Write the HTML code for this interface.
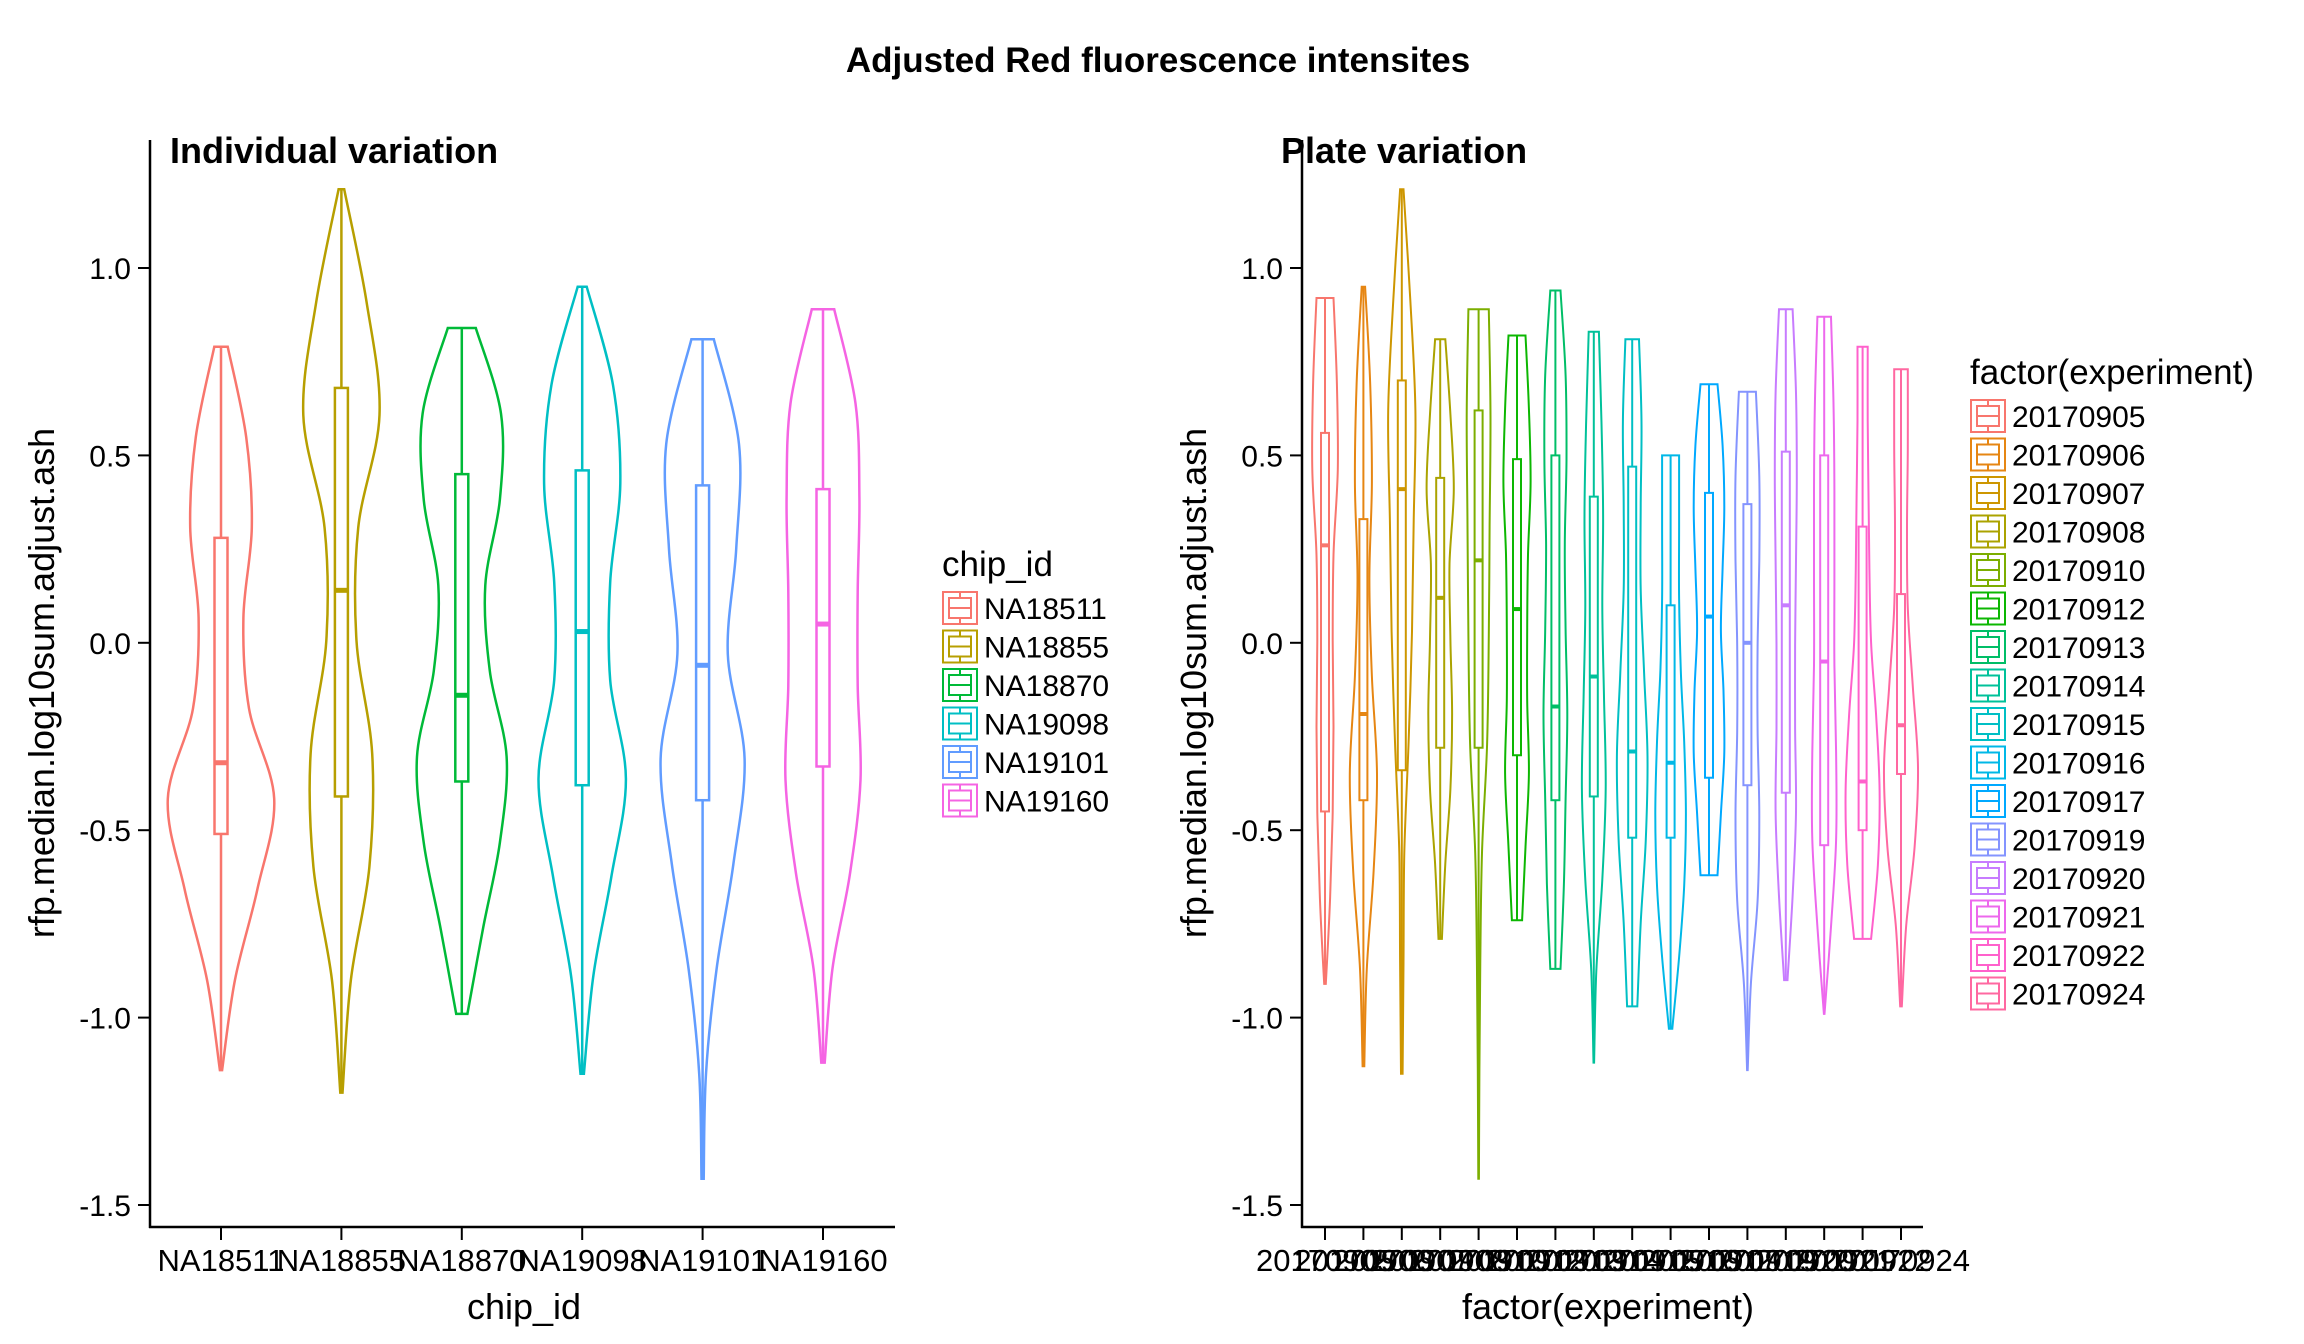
<!DOCTYPE html>
<html><head><meta charset="utf-8"><style>
html,body{margin:0;padding:0;background:#fff;}
svg{display:block;font-family:"Liberation Sans",sans-serif;}
</style></head><body>
<svg id="chart" width="2304" height="1344" viewBox="0 0 2304 1344" xmlns="http://www.w3.org/2000/svg">
<rect width="2304" height="1344" fill="#fff"/>
<text x="1158" y="72" text-anchor="middle" font-size="35" font-weight="bold">Adjusted Red fluorescence intensites</text>
<g id="left"></g>
<g id="right"></g>
</svg>
<script>
// ---- data: left panel ----
const chipIds = ["NA18511","NA18855","NA18870","NA19098","NA19101","NA19160"];
const chipColors = ["#F8766D","#B79F00","#00BA38","#00BFC4","#619CFF","#F564E3"];
const chipMin = [-1.14,-1.20,-0.99,-1.15,-1.43,-1.12];
const chipMax = [0.79,1.21,0.84,0.95,0.81,0.89];
const chipQ1 = [-0.51,-0.41,-0.37,-0.38,-0.42,-0.33];
const chipMed = [-0.32,0.14,-0.14,0.03,-0.06,0.05];
const chipQ3 = [0.28,0.68,0.45,0.46,0.42,0.41];
const chipDensity = [
 [0.02,0.25,0.65,0.95,0.5,0.4,0.55,0.45,0.12],
 [0.02,0.17,0.5,0.55,0.27,0.3,0.68,0.45,0.05],
 [0.1,0.38,0.68,0.8,0.5,0.42,0.68,0.7,0.25],
 [0.03,0.2,0.52,0.78,0.5,0.5,0.68,0.55,0.08],
 [0.02,0.06,0.25,0.55,0.75,0.45,0.6,0.65,0.2],
 [0.03,0.17,0.48,0.67,0.62,0.62,0.65,0.58,0.2]
];
// ---- data: right panel ----
const experiments = ["20170905","20170906","20170907","20170908","20170910","20170912","20170913","20170914","20170915","20170916","20170917","20170919","20170920","20170921","20170922","20170924"];
const expColors = ["#F8766D","#E68613","#CD9600","#ABA300","#7CAE00","#0CB702","#00BE67","#00C19A","#00BFC4","#00B8E7","#00A9FF","#8494FF","#C77CFF","#ED68ED","#FF61CC","#FF68A1"];
const expMin = [-0.91,-1.13,-1.15,-0.79,-1.43,-0.74,-0.87,-1.12,-0.97,-1.03,-0.62,-1.14,-0.90,-0.99,-0.79,-0.97];
const expMax = [0.92,0.95,1.21,0.81,0.89,0.82,0.94,0.83,0.81,0.50,0.69,0.67,0.89,0.87,0.79,0.73];
const expQ1 = [-0.45,-0.42,-0.34,-0.28,-0.28,-0.30,-0.42,-0.41,-0.52,-0.52,-0.36,-0.38,-0.40,-0.54,-0.50,-0.35];
const expMed = [0.26,-0.19,0.41,0.12,0.22,0.09,-0.17,-0.09,-0.29,-0.32,0.07,0.00,0.10,-0.05,-0.37,-0.22];
const expQ3 = [0.56,0.33,0.70,0.44,0.62,0.49,0.50,0.39,0.47,0.10,0.40,0.37,0.51,0.50,0.31,0.13];
const expDensity = [
 [0.05,0.3,0.45,0.5,0.45,0.5,0.75,0.7,0.5],
 [0.05,0.2,0.6,0.8,0.5,0.35,0.5,0.4,0.1],
 [0.05,0.1,0.15,0.4,0.6,0.7,0.8,0.5,0.1],
 [0.1,0.3,0.6,0.7,0.6,0.55,0.8,0.6,0.3],
 [0.02,0.05,0.1,0.2,0.5,0.6,0.65,0.7,0.6],
 [0.3,0.5,0.7,0.6,0.6,0.65,0.8,0.7,0.5],
 [0.3,0.5,0.6,0.7,0.6,0.55,0.65,0.6,0.3],
 [0.02,0.15,0.5,0.7,0.6,0.5,0.55,0.45,0.3],
 [0.3,0.5,0.8,0.9,0.7,0.5,0.5,0.55,0.4],
 [0.1,0.5,0.8,0.9,0.8,0.6,0.5,0.5,0.5],
 [0.5,0.7,0.9,0.85,0.7,0.8,0.9,0.8,0.5],
 [0.02,0.2,0.6,0.7,0.6,0.6,0.7,0.7,0.5],
 [0.1,0.4,0.6,0.55,0.55,0.6,0.65,0.6,0.4],
 [0.02,0.4,0.7,0.7,0.6,0.6,0.6,0.55,0.4],
 [0.5,0.9,1.0,0.8,0.5,0.4,0.35,0.3,0.3],
 [0.05,0.3,0.8,1.0,0.7,0.4,0.35,0.4,0.4]
];
const yTicks = [1.0,0.5,0.0,-0.5,-1.0,-1.5];
const yTickLabels = ["1.0","0.5","0.0","-0.5","-1.0","-1.5"];

const NS="http://www.w3.org/2000/svg";
function mk(tag, attrs, parent){const e=document.createElementNS(NS,tag);for(const k in attrs)e.setAttribute(k,attrs[k]);parent.appendChild(e);return e;}
const yScale = v => 642.8 - v*374.8;

function smoothPts(pts){
  let d="M"+pts[0][0].toFixed(1)+","+pts[0][1].toFixed(1);
  for(let i=0;i<pts.length-1;i++){
    const p0=pts[Math.max(0,i-1)],p1=pts[i],p2=pts[i+1],p3=pts[Math.min(pts.length-1,i+2)];
    const c1=[p1[0]+(p2[0]-p0[0])/6,p1[1]+(p2[1]-p0[1])/6];
    const c2=[p2[0]-(p3[0]-p1[0])/6,p2[1]-(p3[1]-p1[1])/6];
    d+=" C"+c1[0].toFixed(1)+","+c1[1].toFixed(1)+" "+c2[0].toFixed(1)+","+c2[1].toFixed(1)+" "+p2[0].toFixed(1)+","+p2[1].toFixed(1);
  }
  return d;
}

function panel(cfg){
  const g=document.getElementById(cfg.id);
  const xScale=i=>cfg.x0+i*cfg.step;
  const ya=mk('line',{x1:cfg.axisX,y1:140,x2:cfg.axisX,y2:1228,stroke:'#000','stroke-width':2.5},g);
  
  
  const xa=mk('line',{x1:cfg.axisX-1,y1:1227,x2:cfg.axisEnd,y2:1227,stroke:'#000','stroke-width':2.5},g);
  
  
  yTicks.forEach((v,i)=>{
    const t=mk('line',{x1:cfg.axisX-12,y1:yScale(v),x2:cfg.axisX,y2:yScale(v),stroke:'#000','stroke-width':2},g);
    
    
    const l=mk('text',{x:cfg.axisX-19,y:yScale(v)+11,'text-anchor':'end','font-size':30},g);
    
    
    l.textContent=yTickLabels[i];
  });
  cfg.cats.forEach((c,i)=>{
    const x=xScale(i);
    const t=mk('line',{x1:x,y1:1228,x2:x,y2:1240,stroke:'#000','stroke-width':2},g);
    
    
    const l=mk('text',{x:x,y:1271,'text-anchor':'middle','font-size':31},g);
    
    
    l.textContent=c;
  });
  cfg.cats.forEach((c,i)=>{
    const x=xScale(i), col=cfg.colors[i];
    const dens=cfg.dens[i], lo=cfg.min[i], hi=cfg.max[i];
    const m=dens.length;
    const right=[],left=[];
    for(let k=0;k<m;k++){
      const v=lo+(hi-lo)*k/(m-1);
      right.push([x+dens[k]*cfg.maxHalf, yScale(v)]);
    }
    for(let k=m-1;k>=0;k--){
      const v=lo+(hi-lo)*k/(m-1);
      left.push([x-dens[k]*cfg.maxHalf, yScale(v)]);
    }
    let d=smoothPts(right)+" L"+left[0][0].toFixed(1)+","+left[0][1].toFixed(1)+" "+smoothPts(left).slice(1).replace(/^[^C]*/,'')+" Z";
    const vg=mk('g',{},g);
    
    
    mk('path',{d:d,fill:'none',stroke:col,'stroke-width':cfg.lw},vg);
    mk('line',{x1:x,y1:yScale(lo),x2:x,y2:yScale(cfg.q1[i]),stroke:col,'stroke-width':cfg.lw},vg);
    mk('line',{x1:x,y1:yScale(cfg.q3[i]),x2:x,y2:yScale(hi),stroke:col,'stroke-width':cfg.lw},vg);
    mk('rect',{x:x-cfg.boxHalf,y:yScale(cfg.q3[i]),width:cfg.boxHalf*2,height:yScale(cfg.q1[i])-yScale(cfg.q3[i]),fill:'none',stroke:col,'stroke-width':cfg.lw},vg);
    mk('line',{x1:x-cfg.boxHalf,y1:yScale(cfg.med[i]),x2:x+cfg.boxHalf,y2:yScale(cfg.med[i]),stroke:col,'stroke-width':cfg.lw*2},vg);
  });
  const st=mk('text',{x:cfg.subX,y:163,'font-size':36,'font-weight':'bold'},g);
  
  
  st.textContent=cfg.sub;
  const yt=mk('text',{x:0,y:0,'font-size':36,'text-anchor':'middle',transform:`translate(${cfg.axisX-96},683) rotate(-90)`},g);
  
  
  yt.textContent="rfp.median.log10sum.adjust.ash";
  const xt=mk('text',{x:cfg.xTitleX,y:1319,'font-size':36,'text-anchor':'middle'},g);
  
  
  xt.textContent=cfg.xTitle;
  const lg=mk('g',{},g);
  
  
  const lt=mk('text',{x:cfg.legX,y:cfg.legY-32,'font-size':35},lg);
  
  
  lt.textContent=cfg.legTitle;
  cfg.cats.forEach((c,i)=>{
    const y=cfg.legY+i*38.5;
    const e=mk('g',{},lg);
    
    
    const kx=cfg.legX, col=cfg.colors[i];
    mk('rect',{x:kx+1,y:y-16,width:34,height:32,fill:'#fff',stroke:col,'stroke-width':2},e);
    mk('rect',{x:kx+7,y:y-10,width:22,height:20,fill:'none',stroke:col,'stroke-width':2},e);
    mk('line',{x1:kx+18,y1:y-16,x2:kx+18,y2:y-10,stroke:col,'stroke-width':2},e);
    mk('line',{x1:kx+18,y1:y+10,x2:kx+18,y2:y+16,stroke:col,'stroke-width':2},e);
    mk('line',{x1:kx+7,y1:y,x2:kx+29,y2:y,stroke:col,'stroke-width':2},e);
    const tx=mk('text',{x:kx+42,y:y+11,'font-size':30},e);
    tx.textContent=c;
  });
}

panel({id:'left',cats:chipIds,colors:chipColors,min:chipMin,max:chipMax,q1:chipQ1,med:chipMed,q3:chipQ3,dens:chipDensity,
  x0:221,step:120.4,axisX:150,axisEnd:895,maxHalf:56,boxHalf:6.5,lw:2.5,sub:'Individual variation',subX:170,
  xTitle:'chip_id',xTitleX:524,legX:942,legY:608,legTitle:'chip_id'});
panel({id:'right',cats:experiments,colors:expColors,min:expMin,max:expMax,q1:expQ1,med:expMed,q3:expQ3,dens:expDensity,
  x0:1325,step:38.4,axisX:1302,axisEnd:1923,maxHalf:17,boxHalf:4,lw:2,sub:'Plate variation',subX:1281,
  xTitle:'factor(experiment)',xTitleX:1608,legX:1970,legY:416,legTitle:'factor(experiment)'});
</script>
</body></html>
